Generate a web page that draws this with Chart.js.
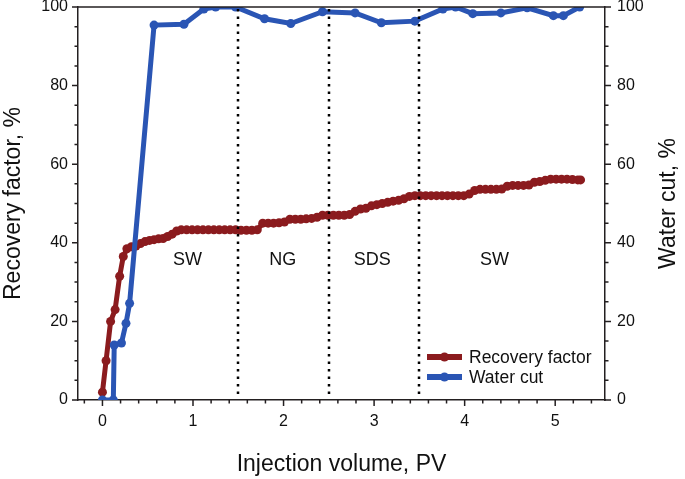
<!DOCTYPE html>
<html>
<head>
<meta charset="utf-8">
<script src="https://cdn.jsdelivr.net/npm/chart.js@4.4.1/dist/chart.umd.min.js"></script>
<style>
  html, body { margin: 0; padding: 0; background: #fff; }
  #wrap { width: 685px; height: 479px; }
</style>
</head>
<body>
<div id="wrap"><canvas id="grafik" width="685" height="479"></canvas></div>
<script>
// --- VERİ ---
const rfVolume = [0, 0.04, 0.09, 0.14, 0.19, 0.23, 0.27, 0.32, 0.37, 0.42, 0.47, 0.52, 0.57, 0.62, 0.67, 0.72, 0.77, 0.82, 0.87,
  0.93, 0.99, 1.05, 1.11, 1.17, 1.23, 1.29, 1.35, 1.41, 1.47, 1.53, 1.59, 1.65, 1.71, 1.77, 1.83, 1.89, 1.95, 2.01, 2.07,
  2.13, 2.19, 2.25, 2.31, 2.37, 2.43, 2.49, 2.55, 2.61, 2.67, 2.73, 2.79, 2.85, 2.91, 2.97, 3.03, 3.09, 3.15, 3.21, 3.27,
  3.33, 3.39, 3.45, 3.51, 3.57, 3.63, 3.69, 3.75, 3.81, 3.87, 3.93, 3.99, 4.05, 4.11, 4.17, 4.23, 4.29, 4.35, 4.41, 4.47,
  4.53, 4.59, 4.65, 4.71, 4.77, 4.83, 4.89, 4.95, 5.01, 5.07, 5.13, 5.19, 5.25, 5.28];
const rfValue = [2, 10, 20, 23, 31.5, 36.5, 38.5, 39, 39.2, 39.8, 40.3, 40.6, 40.8, 41, 41.1, 41.6, 42.2, 43, 43.3,
  43.3, 43.3, 43.3, 43.3, 43.3, 43.3, 43.3, 43.3, 43.3, 43.3, 43.2, 43.2, 43.2, 43.3, 45, 45, 45, 45.1, 45.3, 46,
  46, 46, 46.1, 46.2, 46.5, 47, 47, 47, 47, 47, 47.2, 48, 48.6, 48.8, 49.4, 49.7, 50, 50.3, 50.6, 50.8,
  51.2, 51.8, 52, 52, 52, 52, 52, 52, 52, 52, 52, 52, 52.4, 53.3, 53.6, 53.6, 53.6, 53.6, 53.7, 54.4,
  54.6, 54.6, 54.6, 54.7, 55.4, 55.6, 55.9, 56.2, 56.2, 56.2, 56.2, 56.1, 56, 56];

const wcVolume = [0, 0.12, 0.13, 0.21, 0.26, 0.30, 0.57, 0.90, 1.12, 1.25, 1.47, 1.79, 2.08, 2.43, 2.79, 3.08, 3.45,
  3.76, 3.90, 4.09, 4.40, 4.69, 4.98, 5.09, 5.27];
const wcValue = [0, 0, 14, 14.5, 19.5, 24.6, 95.4, 95.6, 99.5, 100, 100, 97, 95.8, 98.8, 98.5, 96, 96.4,
  99.5, 100, 98.3, 98.5, 99.8, 97.8, 97.8, 100];

const xTicks = [0, 1, 2, 3, 4, 5];
const yTicks = [0, 20, 40, 60, 80, 100];
const stageBounds = [1.5, 2.5, 3.5];
const stageNames = ['SW', 'NG', 'SDS', 'SW'];
const stageCenters = [0.94, 1.99, 2.98, 4.33];
const stageLevel = 35.6;

// --- STİL ---
const kirmizi = '#8b1b1e';
const mavi = '#2a55b4';
const eksenRengi = '#231f20';
const yazi = 'Liberation Sans, Arial, Helvetica, sans-serif';

function toPoints(xs, ys) {
  return xs.map((x, i) => ({ x: x, y: ys[i] }));
}

function fixTicks(values) {
  return scale => { scale.ticks = values.map(v => ({ value: v })); };
}

// küçük/büyük tik çizgileri, kesikli sınırlar, etiketler ve lejant
const extras = {
  id: 'extras',
  afterDatasetsDraw(chart) {
    const ctx = chart.ctx;
    const area = chart.chartArea;
    const x = chart.scales.x;
    ctx.save();
    ctx.strokeStyle = '#000';
    ctx.lineWidth = 2.5;
    ctx.setLineDash([2.5, 5]);
    stageBounds.forEach(b => {
      const px = Math.round(x.getPixelForValue(b));
      ctx.beginPath();
      ctx.moveTo(px, area.top + 2);
      ctx.lineTo(px, area.bottom - 2);
      ctx.stroke();
    });
    ctx.restore();
  },
  afterDraw(chart) {
    const ctx = chart.ctx;
    const area = chart.chartArea;
    const x = chart.scales.x;
    const y = chart.scales.y;
    ctx.save();
    ctx.strokeStyle = eksenRengi;
    ctx.lineWidth = 1.5;

    // üst çerçeve
    ctx.beginPath();
    ctx.moveTo(area.left, area.top);
    ctx.lineTo(area.right, area.top);
    ctx.stroke();

    // x tikleri (0.2 aralık)
    for (let k = -1; k <= 27; k++) {
      const v = k * 0.2;
      const px = x.getPixelForValue(v);
      if (px < area.left || px > area.right) continue;
      const len = k % 5 === 0 ? 6 : 3.5;
      ctx.beginPath();
      ctx.moveTo(px, area.bottom);
      ctx.lineTo(px, area.bottom + len);
      ctx.stroke();
    }
    // y tikleri (5 aralık), sol ve sağ
    for (let k = 0; k <= 20; k++) {
      const py = y.getPixelForValue(k * 5);
      const len = k % 4 === 0 ? 6 : 3.5;
      ctx.beginPath();
      ctx.moveTo(area.left - len, py);
      ctx.lineTo(area.left, py);
      ctx.moveTo(area.right, py);
      ctx.lineTo(area.right + len, py);
      ctx.stroke();
    }

    // sağ eksen başlığı (aşağıdan yukarı okunur)
    ctx.fillStyle = '#111';
    ctx.font = '23px ' + yazi;
    ctx.textAlign = 'center';
    ctx.textBaseline = 'middle';
    ctx.save();
    ctx.translate(area.right + 64, (area.top + area.bottom) / 2);
    ctx.rotate(-Math.PI / 2);
    ctx.fillText('Water cut, %', 0, 0);
    ctx.restore();

    // evre etiketleri
    ctx.font = '18px ' + yazi;
    stageNames.forEach((n, i) => {
      ctx.fillText(n, x.getPixelForValue(stageCenters[i]), y.getPixelForValue(stageLevel));
    });

    // lejant
    const items = [
      { label: 'Recovery factor', color: kirmizi, py: area.bottom - 43 },
      { label: 'Water cut', color: mavi, py: area.bottom - 23 }
    ];
    const lx = area.right - 178;
    items.forEach(it => {
      ctx.strokeStyle = it.color;
      ctx.lineWidth = 6;
      ctx.beginPath();
      ctx.moveTo(lx, it.py);
      ctx.lineTo(lx + 35, it.py);
      ctx.stroke();
      ctx.fillStyle = it.color;
      ctx.beginPath();
      ctx.arc(lx + 17.5, it.py, 4.5, 0, Math.PI * 2);
      ctx.fill();
      ctx.fillStyle = '#111';
      ctx.font = '17.5px ' + yazi;
      ctx.textAlign = 'left';
      ctx.fillText(it.label, lx + 42, it.py + 1);
    });
    ctx.restore();
  }
};

const tickFont = { family: yazi, size: 16 };
const titleFont = { family: yazi, size: 23 };

function fitY(w) {
  return s => { s.width = w; s.paddingTop = 0; s.paddingBottom = 0; };
}

const ctx = document.getElementById('grafik').getContext('2d');
new Chart(ctx, {
  type: 'line',
  data: {
    datasets: [
      {
        label: 'Water cut',
        data: toPoints(wcVolume, wcValue),
        yAxisID: 'y1',
        borderColor: mavi,
        backgroundColor: mavi,
        borderWidth: 5,
        pointRadius: 4.5,
        pointBorderWidth: 0,
        pointBackgroundColor: mavi,
        tension: 0,
        clip: 0
      },
      {
        label: 'Recovery factor',
        data: toPoints(rfVolume, rfValue),
        yAxisID: 'y',
        borderColor: kirmizi,
        backgroundColor: kirmizi,
        borderWidth: 5,
        pointRadius: 4.5,
        pointBorderWidth: 0,
        pointBackgroundColor: kirmizi,
        tension: 0,
        clip: 0
      }
    ]
  },
  options: {
    responsive: false,
    animation: false,
    layout: { padding: { top: 7, right: 0, left: 0, bottom: 0 } },
    plugins: { legend: { display: false }, tooltip: { enabled: false } },
    scales: {
      x: {
        type: 'linear',
        min: -0.27,
        max: 5.55,
        afterBuildTicks: fixTicks(xTicks),
        afterFit: s => { s.height = 79; s.paddingLeft = 0; s.paddingRight = 0; },
        grid: { display: false, drawTicks: false },
        border: { display: true, color: eksenRengi, width: 1.5 },
        ticks: { color: '#111', font: tickFont, padding: 12, maxRotation: 0 },
        title: { display: true, text: 'Injection volume, PV', color: '#111', font: titleFont, padding: { top: 0, bottom: 1 } }
      },
      y: {
        position: 'left',
        min: 0,
        max: 100,
        afterBuildTicks: fixTicks(yTicks),
        afterFit: fitY(78),
        grid: { display: false, drawTicks: false },
        border: { display: true, color: eksenRengi, width: 1.5 },
        ticks: { color: '#111', font: tickFont, padding: 10 },
        title: { display: true, text: 'Recovery factor, %', color: '#111', font: titleFont, padding: { top: 0, bottom: 0 } }
      },
      y1: {
        position: 'right',
        min: 0,
        max: 100,
        afterBuildTicks: fixTicks(yTicks),
        afterFit: fitY(80),
        grid: { display: false, drawTicks: false },
        border: { display: true, color: eksenRengi, width: 1.5 },
        ticks: { color: '#111', font: tickFont, padding: 12 },
        title: { display: false }
      }
    }
  },
  plugins: [extras]
});
</script>
</body>
</html>
